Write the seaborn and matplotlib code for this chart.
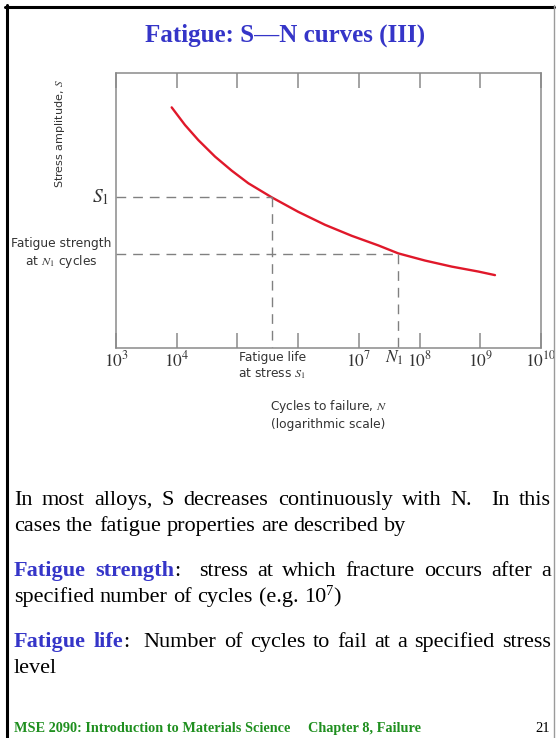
import numpy as np
import pandas as pd
import seaborn as sns
import matplotlib
matplotlib.use("Agg")
import matplotlib.pyplot as plt
import matplotlib.transforms as mtransforms
from matplotlib.lines import Line2D
from matplotlib.ticker import NullLocator

# ---------------- data ----------------
log_N = [3.917, 4.136, 4.356, 4.631, 4.905, 5.180, 5.564, 6.003,
         6.442, 6.882, 7.321, 7.650, 8.089, 8.529, 8.968, 9.242]
S_amp = [0.875, 0.811, 0.756, 0.696, 0.645, 0.599, 0.548, 0.495,
         0.448, 0.408, 0.373, 0.344, 0.318, 0.296, 0.278, 0.265]
S1 = 0.548            # stress level S1
log_N_at_S1 = 5.575   # fatigue life at S1
S_fs = 0.343          # fatigue strength at N1
log_N1 = 7.640        # N1
tick_exps = [3, 4, 5, 6, 7, 8, 9, 10]
tick_labels = ["$10^{3}$", "$10^{4}$", "", "", "$10^{7}$", "$10^{8}$", "$10^{9}$", "$10^{10}$"]

title = "Fatigue: S\u2014N curves (III)"
body_lines = [
    ([("In most alloys, S decreases continuously with N.  In this", "n")], 505, True),
    ([("cases the fatigue properties are described by", "n")], 531, False),
    ([("Fatigue strength", "hl"), (":  stress at which fracture occurs after a", "n")], 576, True),
    ([("specified number of cycles (e.g. 10", "n"), ("7", "sup"), (")", "n")], 602, False),
    ([("Fatigue life", "hl"), (":  Number of cycles to fail at a specified stress", "n")], 647, True),
    ([("level", "n")], 673, False),
]
footer_left = "MSE 2090: Introduction to Materials Science"
footer_mid = "Chapter 8, Failure"
footer_page = "21"

# ---------------- style ----------------
sns.set_theme(style="white")
plt.rcParams["font.family"] = ["DejaVu Sans"]
plt.rcParams["mathtext.fontset"] = "stix"

W, H = 556, 738
RED = "#e0182a"
BLUE = "#3535c8"
GREEN = "#1f8f1f"
GREY = "#8a8a8a"
DASH = "#808080"
TXT = "#333333"
LBL = 8.8

def fx(x):
    return x / W

def fy(y):
    return 1 - y / H

fig = plt.figure(figsize=(W / 100, H / 100), dpi=100)
fig.patch.set_facecolor("white")
ax = fig.add_axes([fx(116), fy(348), 425 / W, 275 / H])
ax.set_facecolor("white")

df = pd.DataFrame({"N": 10.0 ** np.array(log_N), "S": S_amp})
sns.lineplot(data=df, x="N", y="S", ax=ax, color=RED, lw=1.7, sort=False, estimator=None,
             solid_capstyle="round", solid_joinstyle="round")
ax.set_xscale("log")
ax.set_xlim(1e3, 1e10)
ax.set_ylim(0, 1)

N_S1 = 10.0 ** log_N_at_S1
N1 = 10.0 ** log_N1
x0 = ax.get_xlim()[0]
dkw = dict(color=DASH, lw=1.0, dashes=(7, 5))
ax.plot([x0, N_S1], [S1, S1], **dkw)
ax.plot([N_S1, N_S1], [S1, 0], **dkw)
ax.plot([x0, N1], [S_fs, S_fs], **dkw)
ax.plot([N1, N1], [S_fs, 0], **dkw)

ax.set_xticks([10.0 ** e for e in tick_exps])
ax.set_xticklabels(tick_labels)
ax.xaxis.set_minor_locator(NullLocator())
ax.tick_params(axis="x", which="major", direction="in", top=True, bottom=True,
               length=11, width=1.1, color=GREY, pad=2.0, labelsize=12.5, labelcolor=TXT)
ax.set_yticks([])
for s in ax.spines.values():
    s.set_color(GREY)
    s.set_linewidth(1.1)

ax.set_xlabel("Cycles to failure, $N$\n(logarithmic scale)", fontsize=LBL, color=TXT, linespacing=1.3)
ax.xaxis.set_label_coords(0.5, (348 - 398) / 275)
ax.set_ylabel("Stress amplitude, $S$", fontsize=8.0, color=TXT)
ax.yaxis.set_label_coords((60 - 116) / 425, (348 - 134) / 275)
ax.yaxis.label.set_va("center")

t_xfig_ydata = mtransforms.blended_transform_factory(fig.transFigure, ax.transData)
t_xdata_yfig = mtransforms.blended_transform_factory(ax.transData, fig.transFigure)
ax.text(fx(101), S1, "$S_1$", transform=t_xfig_ydata, ha="center", va="center",
        fontsize=14, color=TXT, clip_on=False)
ax.text(fx(61), S_fs, "Fatigue strength\nat $N_1$ cycles", transform=t_xfig_ydata,
        ha="center", va="center", fontsize=LBL, color=TXT, linespacing=1.2, clip_on=False)
ax.text(N_S1, fy(351), "Fatigue life\nat stress $S_1$", transform=t_xdata_yfig,
        ha="center", va="top", fontsize=LBL, color=TXT, linespacing=1.25, clip_on=False)
ax.text(N1 * 0.88, fy(363), "$N_1$", transform=t_xdata_yfig, ha="center", va="baseline",
        fontsize=12.5, color=TXT, clip_on=False)

# ---------------- slide text ----------------
fig.text(fx(285), fy(42), title, ha="center", va="baseline", family="Liberation Serif",
         weight="bold", fontsize=18, color=BLUE)

renderer = fig.canvas.get_renderer()
BODY = 16
STY = {
    "n": dict(family="Liberation Serif", fontsize=BODY, color="black"),
    "hl": dict(family="Liberation Serif", fontsize=BODY, color=BLUE, weight="bold"),
    "sup": dict(family="Liberation Serif", fontsize=10.5, color="black"),
}
RAISE = {"n": 0, "hl": 0, "sup": 7}

def measure(s, style):
    t = fig.text(0, 0, s, **STY[style])
    w = t.get_window_extent(renderer).width
    t.remove()
    return w

space_w = measure("n n", "n") - measure("nn", "n")

def layout_line(segments, baseline, justify, xl=14, xr=551):
    words = [[]]
    gaps = []
    sc = 0
    for text, style in segments:
        for ch in text:
            if ch == " ":
                sc += 1
                continue
            if sc and words[-1]:
                gaps.append(sc)
                words.append([])
            sc = 0
            if words[-1] and words[-1][-1][1] == style:
                words[-1][-1] = (words[-1][-1][0] + ch, style)
            else:
                words[-1].append((ch, style))
    widths = [[measure(t, s) for t, s in w] for w in words]
    total = sum(sum(w) for w in widths)
    unit = (xr - xl - total) / sum(gaps) if (justify and gaps) else space_w
    x = xl
    for i, w in enumerate(words):
        for (t, s), ww in zip(w, widths[i]):
            fig.text(fx(x), fy(baseline - RAISE[s]), t, ha="left", va="baseline", **STY[s])
            x += ww
        if i < len(gaps):
            x += gaps[i] * unit

for segs, base, just in body_lines:
    layout_line(segs, base, just)

fkw = dict(family="Liberation Serif", weight="bold", fontsize=10.3, color=GREEN, va="baseline")
fig.text(fx(14), fy(732), footer_left, ha="left", **fkw)
fig.text(fx(308), fy(732), footer_mid, ha="left", **fkw)
fig.text(fx(550), fy(732), footer_page, ha="right", va="baseline", family="Liberation Serif",
         fontsize=10.5, color="black")

# slide border
fig.add_artist(Line2D([fx(5), fx(554)], [fy(6.5), fy(6.5)], color="black", lw=2.2))
fig.add_artist(Line2D([fx(6.5), fx(6.5)], [fy(5), 0], color="black", lw=2.2))
fig.add_artist(Line2D([fx(553.5), fx(553.5)], [fy(5), 0], color="#9a9a9a", lw=1.0))

fig.savefig("out.png", dpi=100, facecolor="white")
